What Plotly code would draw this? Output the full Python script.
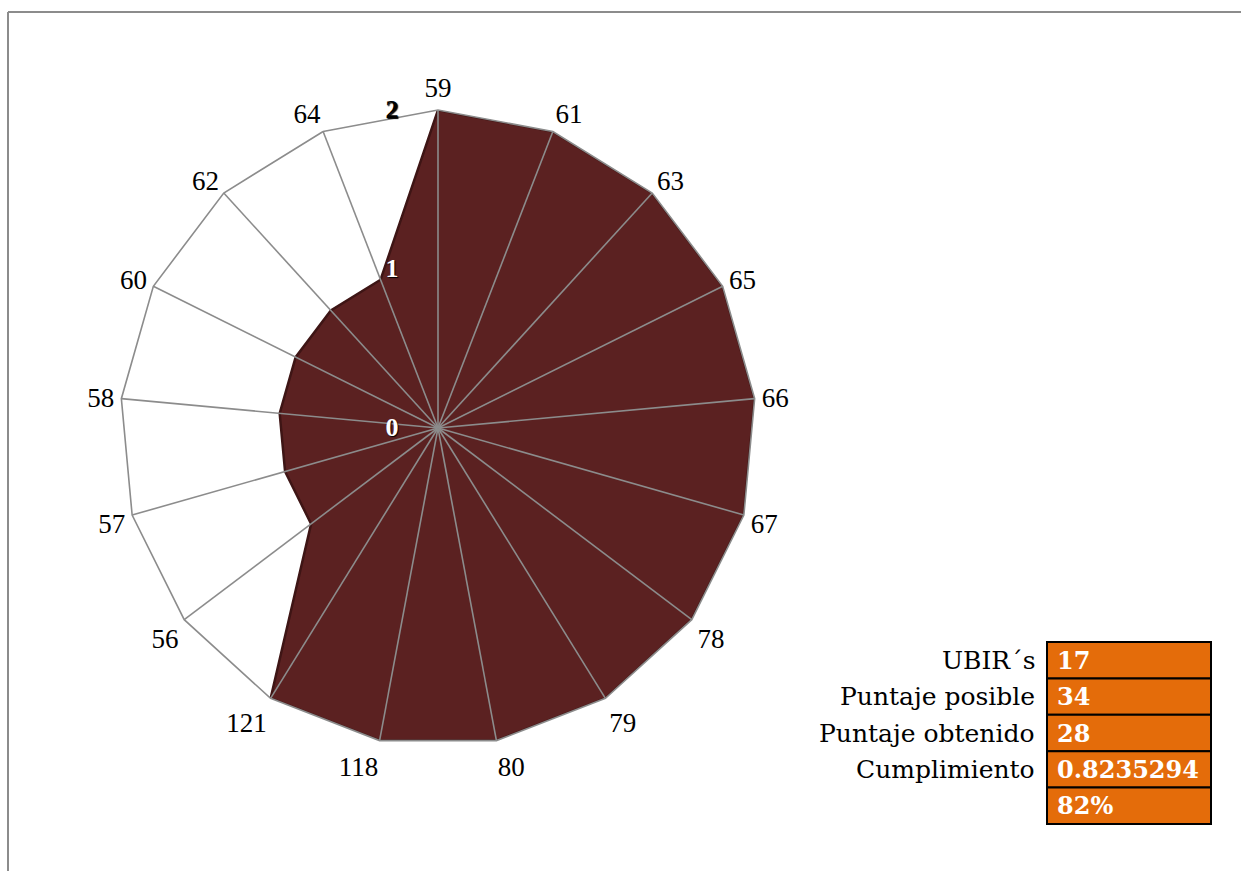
import plotly.graph_objects as go

W, H = 1241, 871

# ---- data ----
categories = ["59", "61", "63", "65", "66", "67", "78", "79", "80",
              "118", "121", "56", "57", "58", "60", "62", "64"]
scores = [2, 2, 2, 2, 2, 2, 2, 2, 2, 2, 2, 1, 1, 1, 1, 1, 1]
radial_ticks = [0, 1, 2]
radial_tick_labels = ["0", "1", "2"]
radial_tick_colors = ["white", "white", "black"]

table_labels = ["UBIR´s", "Puntaje posible", "Puntaje obtenido", "Cumplimiento", ""]
table_values = ["17", "34", "28", "0.8235294", "82%"]


def px_x(x):
    return x / W


def px_y(y):
    return 1 - y / H


fig = go.Figure()

# filled radar area
fig.add_trace(go.Scatterpolar(
    r=scores + [scores[0]],
    theta=categories + [categories[0]],
    mode="lines",
    fill="toself",
    fillcolor="#5b2121",
    line=dict(color="#3e1515", width=2.5),
    hoverinfo="skip",
    showlegend=False,
))

# spokes drawn above the fill
r_max = max(radial_ticks)
sp_r, sp_t = [], []
for c in categories:
    sp_r += [0, r_max, None]
    sp_t += [c, c, None]
fig.add_trace(go.Scatterpolar(
    r=sp_r, theta=sp_t, mode="lines",
    line=dict(color="#8c8c8c", width=1.6),
    connectgaps=False, hoverinfo="skip", showlegend=False,
))

fig.update_layout(
    width=W, height=H,
    margin=dict(l=0, r=0, t=0, b=0),
    paper_bgcolor="white",
    plot_bgcolor="white",
    showlegend=False,
    polar=dict(
        domain=dict(x=[px_x(120), px_x(756)], y=[px_y(746), px_y(110)]),
        bgcolor="rgba(0,0,0,0)",
        gridshape="linear",
        angularaxis=dict(
            type="category",
            categoryorder="array",
            categoryarray=categories,
            direction="clockwise",
            rotation=90,
            showgrid=False,
            showline=True,
            linecolor="#8c8c8c",
            linewidth=1.6,
            ticks="outside",
            ticklen=1,
            tickcolor="rgba(0,0,0,0)",
            tickfont=dict(family="Liberation Serif", size=27, color="black"),
            layer="above traces",
        ),
        radialaxis=dict(
            range=[0, r_max],
            angle=90,
            side="counterclockwise",
            showgrid=False,
            showline=False,
            tickmode="array",
            tickvals=radial_ticks,
            ticktext=[f'<span style="color:{col}">{t}</span>'
                      for t, col in zip(radial_tick_labels, radial_tick_colors)],
            ticks="outside",
            ticklen=30,
            tickcolor="rgba(0,0,0,0)",
            tickangle=90,
            tickfont=dict(family="Liberation Serif", size=26, color="black",
                          weight="bold", shadow="1px 1px 1px #000"),
            layer="above traces",
        ),
    ),
)

shapes = []
annotations = []

# border lines (top and left)
shapes.append(dict(type="line", xref="paper", yref="paper",
                   x0=px_x(8), x1=1.01, y0=px_y(12), y1=px_y(12),
                   line=dict(color="#8c8c8c", width=2)))
shapes.append(dict(type="line", xref="paper", yref="paper",
                   x0=px_x(8), x1=px_x(8), y0=px_y(12), y1=-0.01,
                   line=dict(color="#8c8c8c", width=2)))

# table
tx0, tx1 = 1047, 1211
ty0, ty1 = 642, 824
row_h = (ty1 - ty0) / len(table_values)
for i, (lab, val) in enumerate(zip(table_labels, table_values)):
    top = ty0 + i * row_h
    bot = top + row_h
    shapes.append(dict(type="rect", xref="paper", yref="paper",
                       x0=px_x(tx0), x1=px_x(tx1), y0=px_y(bot), y1=px_y(top),
                       fillcolor="#E46C0A", line=dict(color="black", width=2)))
    yc = px_y((top + bot) / 2)
    annotations.append(dict(xref="paper", yref="paper", x=px_x(1055), y=yc,
                            xanchor="left", yanchor="middle", showarrow=False,
                            text=val,
                            font=dict(family="DejaVu Serif", size=24,
                                      color="white", weight="bold")))
    if lab:
        annotations.append(dict(xref="paper", yref="paper", x=px_x(1037), y=yc,
                                xanchor="right", yanchor="middle", showarrow=False,
                                text=lab,
                                font=dict(family="DejaVu Serif", size=25,
                                          color="black")))

fig.update_layout(shapes=shapes, annotations=annotations)

fig.write_html("out.html")
